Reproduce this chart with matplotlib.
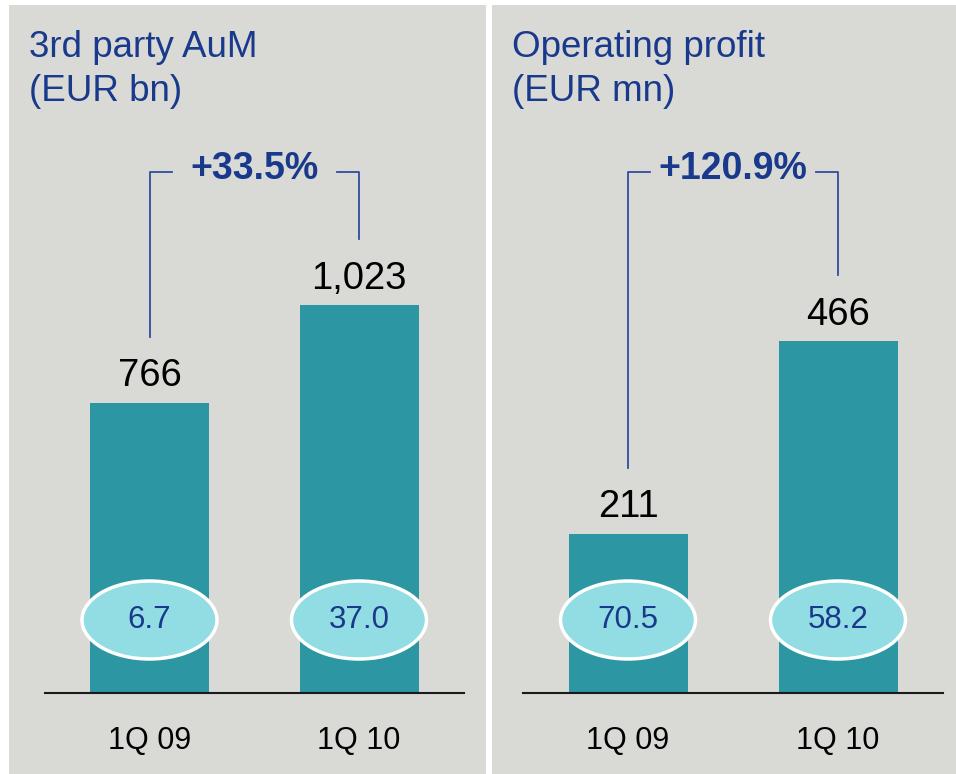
import matplotlib.pyplot as plt
from matplotlib.patches import Ellipse

plt.rcParams['font.family'] = ['Liberation Sans', 'DejaVu Sans']

# data
categories = ['1Q 09', '1Q 10']
aum = [766, 1023]
op_profit = [211, 466]
aum_bubbles = ['6.7', '37.0']
profit_bubbles = ['70.5', '58.2']
aum_growth = '+33.5%'
profit_growth = '+120.9%'
titles = ['3rd party AuM\n(EUR bn)', 'Operating profit\n(EUR mn)']

BG = '#d9d9d5'
TEAL = '#2c96a3'
BUBBLE = '#92dde3'
BLUE = '#19398c'
LINE = '#2f4c9f'

W, H = 956, 774
fig = plt.figure(figsize=(W / 100, H / 100), dpi=100)
fig.patch.set_facecolor('white')


def draw_panel(left, right, centre0, step, scale, values, bubbles, growth, title):
    # panel spans image pixels left..right, top 5..774, baseline at y=693
    top, bottom, base = 5, 774, 693
    ax = fig.add_axes([left / W, 0, (right - left) / W, (bottom - top) / H])
    ax.set_facecolor(BG)
    ax.set_xlim((left - centre0) / step, (right - centre0) / step)
    ax.set_ylim((base - bottom) / scale, (base - top) / scale)
    ax.set_xticks([])
    ax.set_yticks([])
    for s in ax.spines.values():
        s.set_visible(False)

    px_x = 1 / step   # data per pixel, x
    px_y = 1 / scale  # data per pixel, y
    xs = list(range(len(values)))

    ax.bar(xs, values, width=119 * px_x, color=TEAL, zorder=2)
    ax.plot([-0.5, 1.5], [0, 0], color='#1a1a1a', lw=1.5, zorder=3)

    for x, v in zip(xs, values):
        ax.annotate(f'{v:,}', (x, v), xytext=(0, 12), textcoords='offset points',
                    ha='center', va='baseline', fontsize=27.5, color='black')
        ax.text(x, -48 * px_y, categories[x], ha='center', va='center',
                fontsize=22, color='black')

    # bubbles
    yc = (base - 620) * px_y
    for x, b in zip(xs, bubbles):
        ax.add_patch(Ellipse((x, yc), 135 * px_x, 78 * px_y, facecolor=BUBBLE,
                             edgecolor='white', lw=2.5, zorder=4))
        ax.text(x, yc, b, ha='center', va='center', fontsize=22.5, color=BLUE, zorder=5)

    # growth bracket
    ytop = (base - 172) * px_y
    seg = 22 * px_x
    y0 = values[0] + 66 * px_y
    y1 = values[1] + 66 * px_y
    ax.plot([0, 0, seg], [y0, ytop, ytop], color=LINE, lw=1.3, zorder=3)
    ax.plot([1 - seg, 1, 1], [ytop, ytop, y1], color=LINE, lw=1.3, zorder=3)
    ax.text(0.5, ytop + 3 * px_y, growth, ha='center', va='center', fontsize=27,
            fontweight='bold', color=BLUE)

    ax.text(20 / (right - left), 1 - 25 / (bottom - top), title,
            transform=ax.transAxes, ha='left', va='top', fontsize=26.5,
            color=BLUE, linespacing=1.35)


draw_panel(9, 486, 149.5, 209.5, 0.379, aum, aum_bubbles, aum_growth, titles[0])
draw_panel(492, 956, 628, 210, 0.755, op_profit, profit_bubbles, profit_growth, titles[1])

fig.savefig('out.png', dpi=100, facecolor=fig.get_facecolor())
